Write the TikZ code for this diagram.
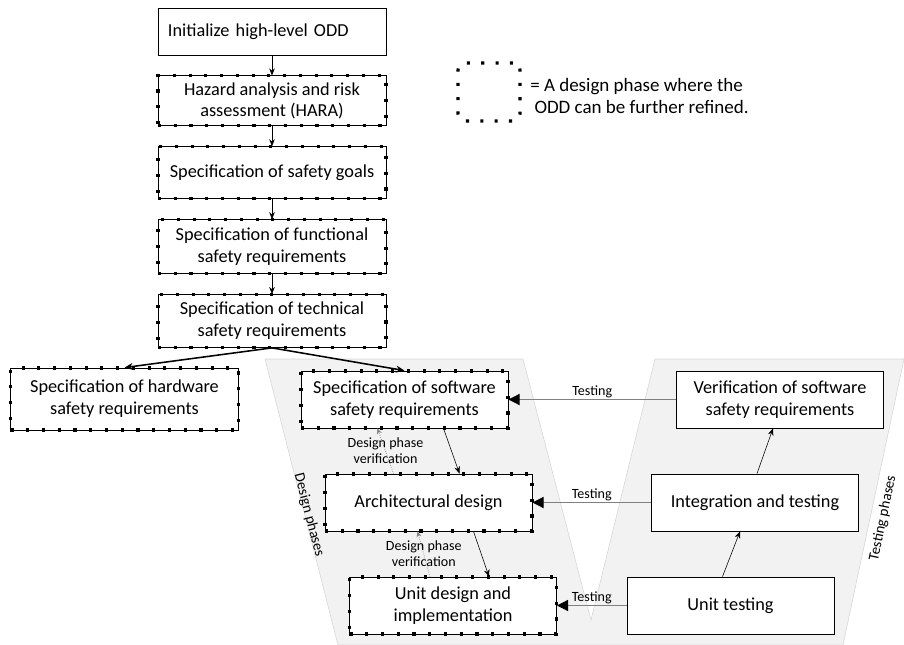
\documentclass[tikz,border=0pt]{standalone}
\usepackage{fontspec}
\setmainfont{Carlito}
\usetikzlibrary{arrows.meta,calc,positioning}
\definecolor{PhaseGrey}{HTML}{F2F2F2}
\definecolor{PhaseEdge}{HTML}{D6D6D6}
\definecolor{TestLine}{HTML}{808080}

\begin{document}
\begin{tikzpicture}[x=0.025cm,y=-0.025cm,node distance=.5cm,
    box/.style={draw,fill=white,line width=0.6pt,align=center,inner sep=2pt,
                font=\fontsize{13}{15.5}\selectfont},
    oddbox/.style={box,postaction={draw,line width=2.2pt,dash pattern=on 2.2pt off 9pt}},
    wide/.style={minimum width=5.7cm},
    narrow/.style={minimum width=5.175cm,minimum height=1.425cm},
    keybox/.style={draw,line width=2.2pt,dash pattern=on 2.2pt off 8pt,rounded corners=5pt,
                   minimum width=1.55cm,minimum height=1.45cm},
    phase/.style={fill=PhaseGrey,draw=PhaseEdge,line width=0.4pt},
    flow/.style={-{Stealth[length=5pt,width=4pt]},line width=0.5pt},
    split/.style={-{Stealth[length=6pt,width=5pt]},line width=1.1pt},
    test/.style={TestLine,line width=0.7pt,-{Triangle[length=8pt,width=8pt,color=black]}},
    check/.style={gray,densely dotted,line width=0.5pt,-{Stealth[length=4pt,width=3.5pt]}},
    lbl/.style={text=black,font=\fontsize{10}{11.5}\selectfont,inner sep=1pt,align=center},
    phaselbl/.style={font=\fontsize{10.5}{12}\selectfont,inner sep=0pt}]
    \useasboundingbox (0,0) rectangle (904,645);
    % grey V behind the lower boxes
    \filldraw[phase] (265,359) -- (523,359) -- (591,620) -- (655,359) -- (904,359)
        -- (843,645) -- (338,645) -- cycle;
    \node[phaselbl,rotate=-75.4] (dlabel) at (309,515) {Design phases};
    \node[phaselbl,rotate=78.2] (tlabel) at (883,518) {Testing phases};
    % top chain
    \node[box,wide,minimum height=1.175cm,text width=5.2cm,align=left,inner xsep=0.25cm] (init) at (272,31.5) {Initialize high-level ODD};
    \node[oddbox,wide,minimum height=1.25cm,below=of init] (hara) {Hazard analysis and risk\\assessment (HARA)};
    \node[oddbox,wide,minimum height=1.3cm,below=of hara] (goals) {Specification of safety goals};
    \node[oddbox,wide,minimum height=1.35cm,below=of goals] (func) {Specification of functional\\safety requirements};
    \node[oddbox,wide,minimum height=1.325cm,below=of func] (tech) {Specification of technical\\safety requirements};
    \draw[flow] (init)--(hara);
    \draw[flow] (hara)--(goals);
    \draw[flow] (goals)--(func);
    \draw[flow] (func)--(tech);
    % legend
    \node[keybox] (key) at (489,92) {};
    \node[anchor=west,align=left,inner sep=0pt,font=\fontsize{13.5}{16}\selectfont] (keytext) at (530,96)
        {= A design phase where the\\\hspace{3pt}ODD can be further refined.};
    % design side
    \node[oddbox,wide,minimum height=1.55cm] (hw) at (124.5,399) {Specification of hardware\\safety requirements};
    \node[oddbox,narrow] (sw) at (404.5,399.5) {Specification of software\\safety requirements};
    \node[oddbox,narrow] (arch) at (428.5,502.5) {Architectural design};
    \node[oddbox,narrow] (unit) at (453,605.5) {Unit design and\\implementation};
    \draw[split] (tech.south)--(hw.north);
    \draw[split] (tech.south)--(sw.north);
    \draw[flow,line width=0.4pt] ($(sw.south)+(39,0)$)--($(arch.north)+(31,0)$);
    \draw[check] ($(arch.north)+(-35,0)$)-- node[lbl] {Design phase\\verification} ($(sw.south)+(-27,0)$);
    \draw[flow,line width=0.4pt] ($(arch.south)+(45,0)$)--($(unit.north)+(36,0)$);
    \draw[check] ($(unit.north)+(-23,0)$)-- node[lbl] {Design phase\\verification} ($(arch.south)+(-11,0)$);
    % testing side
    \node[box,narrow] (verif) at (780,399.5) {Verification of software\\safety requirements};
    \node[box,narrow] (integ) at (755,502.5) {Integration and testing};
    \node[box,narrow] (utest) at (730.5,605.5) {Unit testing};
    \draw[flow,line width=0.4pt] ($(utest.north)+(-8,0)$)--($(integ.south)+(-15,0)$);
    \draw[flow,line width=0.4pt] ($(integ.north)+(2,0)$)--($(verif.south)+(-7,0)$);
    \draw[test] (verif.west)-- node[lbl,above] {Testing} (sw.east);
    \draw[test] (integ.west)-- node[lbl,above] {Testing} (arch.east);
    \draw[test] (utest.west)-- node[lbl,above] {Testing} (unit.east);
  \end{tikzpicture}
\end{document}
